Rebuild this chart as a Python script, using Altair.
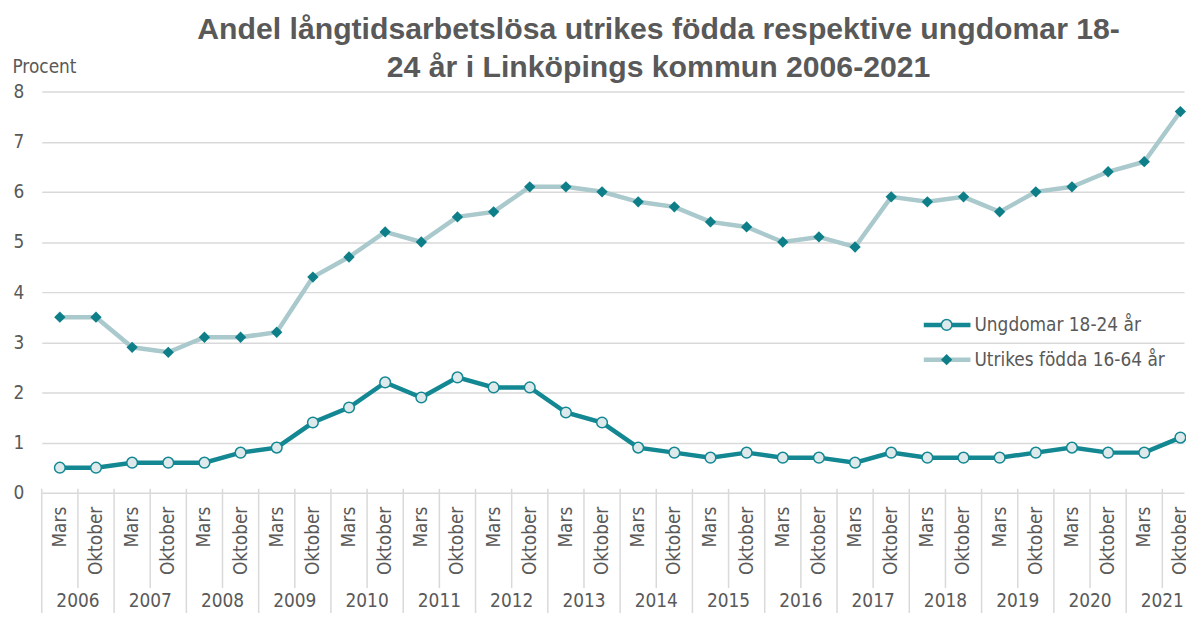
import altair as alt
import pandas as pd

# ---- data ----
years = [str(y) for y in range(2006, 2022)]
months = ["Mars", "Oktober"]
ungdomar = [0.5, 0.5, 0.6, 0.6, 0.6, 0.8, 0.9, 1.4, 1.7, 2.2, 1.9, 2.3, 2.1, 2.1, 1.6, 1.4,
            0.9, 0.8, 0.7, 0.8, 0.7, 0.7, 0.6, 0.8, 0.7, 0.7, 0.7, 0.8, 0.9, 0.8, 0.8, 1.1]
utrikes = [3.5, 3.5, 2.9, 2.8, 3.1, 3.1, 3.2, 4.3, 4.7, 5.2, 5.0, 5.5, 5.6, 6.1, 6.1, 6.0,
           5.8, 5.7, 5.4, 5.3, 5.0, 5.1, 4.9, 5.9, 5.8, 5.9, 5.6, 6.0, 6.1, 6.4, 6.6, 7.6]
series_names = ["Ungdomar 18-24 år", "Utrikes födda 16-64 år"]
title_lines = ["Andel långtidsarbetslösa utrikes födda respektive ungdomar 18-",
               "24 år i Linköpings kommun 2006-2021"]
y_ticks = [0, 1, 2, 3, 4, 5, 6, 7, 8]

FONT = "DejaVu Sans Condensed, DejaVu Sans"
TFONT = "Liberation Sans"
GREY = "#595959"
GRID = "#d9d9d9"
TEAL = "#138893"
TEAL_DARK = "#0e7f89"
LIGHT = "#a9c9cc"
FILL = "#dde9eb"

n = len(years) * len(months)
df = pd.DataFrame({
    "idx": list(range(n)),
    "year": [y for y in years for _ in months],
    "month": months * len(years),
    "ung": ungdomar,
    "utr": utrikes,
})
sep = pd.DataFrame({"b": [i - 0.5 for i in range(n + 1)],
                    "long": [i % 2 == 0 for i in range(n + 1)]})
yr = pd.DataFrame({"c": [2 * k + 0.5 for k in range(len(years))], "year": years})

W, H = 1150, 404
xs = alt.Scale(domain=[-0.5, 31.1], nice=False, zero=False)
ys = alt.Scale(domain=[0, 8], nice=False, zero=True)

base = alt.Chart(df)

line_utr = base.mark_line(color=LIGHT, strokeWidth=4.5).encode(
    x=alt.X("idx:Q", scale=xs, axis=None),
    y=alt.Y("utr:Q", scale=ys, axis=alt.Axis(
        values=y_ticks, title="Procent", titleAngle=0, titleAlign="left",
        titleBaseline="alphabetic", titleX=-30, titleY=-19, titleFont=FONT,
        titleFontSize=19, titleFontWeight="normal", titleColor=GREY,
        labelFont=FONT, labelFontSize=19, labelColor=GREY, labelPadding=18,
        ticks=False, domain=False, grid=True, gridColor=GRID, gridWidth=1.5)),
)
pts_utr = base.mark_point(shape="diamond", filled=True, color=TEAL_DARK, size=130, opacity=1).encode(
    x=alt.X("idx:Q", scale=xs), y=alt.Y("utr:Q", scale=ys))
line_ung = base.mark_line(color=TEAL, strokeWidth=4.5).encode(
    x=alt.X("idx:Q", scale=xs), y=alt.Y("ung:Q", scale=ys))
pts_ung = base.mark_point(shape="circle", filled=True, fill=FILL, stroke=TEAL,
                          strokeWidth=1.5, size=115, opacity=1).encode(
    x=alt.X("idx:Q", scale=xs), y=alt.Y("ung:Q", scale=ys))

# category axis: separators, month labels, year labels
sep_short = alt.Chart(sep).transform_filter("!datum.long").mark_rule(color=GRID, strokeWidth=1.5).encode(
    x=alt.X("b:Q", scale=xs), y=alt.value(H - 4), y2=alt.value(H + 96))
sep_long = alt.Chart(sep).transform_filter("datum.long").mark_rule(color=GRID, strokeWidth=1.5).encode(
    x=alt.X("b:Q", scale=xs), y=alt.value(H - 4), y2=alt.value(H + 125))
month_txt = base.mark_text(angle=270, align="right", baseline="middle", font=FONT,
                           fontSize=19, color=GREY).encode(
    x=alt.X("idx:Q", scale=xs), y=alt.value(H + 14), text="month:N")
year_txt = alt.Chart(yr).mark_text(align="center", baseline="middle", font=FONT,
                                   fontSize=19, color=GREY).encode(
    x=alt.X("c:Q", scale=xs), y=alt.value(H + 109), text="year:N")

# legend
leg_layers = []
leg_y = [235, 270]
for name, ly, lcol, kind in zip(series_names, leg_y, [TEAL, LIGHT], ["circle", "diamond"]):
    ldf = pd.DataFrame({"name": [name]})
    lc = alt.Chart(ldf)
    leg_layers.append(lc.mark_rule(color=lcol, strokeWidth=4.5).encode(
        x=alt.value(888), x2=alt.value(935), y=alt.value(ly)))
    if kind == "circle":
        leg_layers.append(lc.mark_point(shape="circle", filled=True, fill=FILL, stroke=TEAL,
                                        strokeWidth=1.5, size=115, opacity=1).encode(
            x=alt.value(911), y=alt.value(ly)))
    else:
        leg_layers.append(lc.mark_point(shape="diamond", filled=True, color=TEAL_DARK,
                                        size=130, opacity=1).encode(
            x=alt.value(911), y=alt.value(ly)))
    leg_layers.append(lc.mark_text(align="left", baseline="middle", font=FONT, fontSize=19,
                                   color=GREY).encode(
        x=alt.value(939), y=alt.value(ly), text="name:N"))

chart = alt.layer(
    line_utr, sep_short, sep_long, month_txt, year_txt,
    pts_utr, line_ung, pts_ung, *leg_layers
).properties(
    width=W, height=H,
    title=alt.TitleParams(text=title_lines, font=TFONT, fontSize=30.4, fontWeight="bold",
                          color=GREY, anchor="middle", dx=46, dy=36, lineHeight=38, offset=10),
    autosize=alt.AutoSizeParams(type="none"),
    padding={"left": 34, "top": 82, "right": 2, "bottom": 119},
).configure_view(stroke=None)

chart.save("out.html", embed_options={"renderer": "svg", "actions": False})
